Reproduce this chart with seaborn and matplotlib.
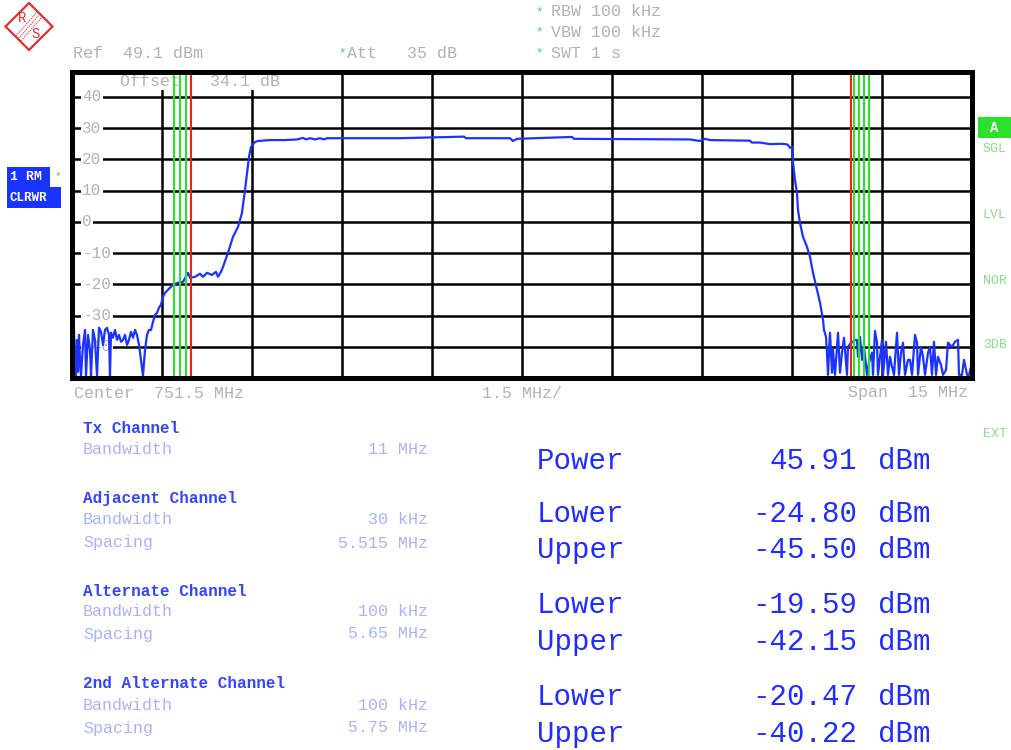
import numpy as np
import pandas as pd
import matplotlib
matplotlib.use("Agg")
import matplotlib.pyplot as plt
import seaborn as sns
from matplotlib.patches import Polygon, Rectangle
from matplotlib.lines import Line2D

# ---------------- data ----------------
freq_mhz = [
    744.000, 744.017, 744.033, 744.050, 744.067, 744.083, 744.100, 744.117, 744.133, 744.150,
    744.183, 744.217, 744.233, 744.267, 744.300, 744.317, 744.350, 744.383, 744.417, 744.450,
    744.483, 744.517, 744.550, 744.583, 744.617, 744.633, 744.650, 744.683, 744.717, 744.750,
    744.783, 744.817, 744.850, 744.883, 744.917, 744.950, 744.983, 745.017, 745.050, 745.083,
    745.117, 745.150, 745.183, 745.217, 745.250, 745.283, 745.317, 745.350, 745.383, 745.417,
    745.450, 745.483, 745.517, 745.550, 745.633, 745.683, 745.767, 745.850, 745.933, 745.967,
    746.050, 746.133, 746.183, 746.250, 746.333, 746.400, 746.433, 746.483, 746.517, 746.600,
    746.683, 746.767, 746.833, 746.883, 746.917, 746.950, 746.983, 747.050, 747.100, 747.300,
    747.550, 747.750, 747.850, 747.900, 747.967, 748.050, 748.133, 748.200, 748.250, 749.467,
    750.533, 750.567, 751.300, 751.350, 751.417, 752.333, 752.367, 754.300, 754.467, 754.550,
    754.633, 755.300, 755.333, 755.467, 755.633, 755.800, 755.900, 755.933, 755.967, 756.000,
    756.017, 756.050, 756.083, 756.100, 756.133, 756.183, 756.250, 756.300, 756.350, 756.417,
    756.467, 756.517, 756.533, 756.567, 756.583, 756.600, 756.633, 756.667, 756.683, 756.717,
    756.767, 756.800, 756.833, 756.867, 756.917, 756.933, 756.983, 757.017, 757.050, 757.083,
    757.100, 757.133, 757.167, 757.200, 757.250, 757.283, 757.333, 757.350, 757.383, 757.417,
    757.433, 757.467, 757.500, 757.517, 757.567, 757.600, 757.633, 757.667, 757.700, 757.750,
    757.783, 757.817, 757.850, 757.883, 757.933, 757.967, 758.000, 758.050, 758.083, 758.100,
    758.150, 758.183, 758.217, 758.267, 758.300, 758.333, 758.367, 758.400, 758.433, 758.483,
    758.517, 758.567, 758.600, 758.633, 758.667, 758.717, 758.767, 758.783, 758.833, 758.867,
    758.917, 758.950, 758.983, 759.000,
]
level_dbm = [
    -39.4, -47.4, -34.6, -45.8, -49.3, -37.8, -48.0, -36.2, -44.2, -49.3,
    -39.4, -34.6, -49.3, -36.2, -41.0, -49.3, -34.6, -37.8, -49.3, -33.9,
    -35.2, -39.4, -34.6, -33.9, -36.2, -49.3, -35.5, -37.1, -34.6, -37.8,
    -36.2, -38.4, -37.8, -36.2, -39.4, -37.8, -35.2, -37.1, -34.6, -36.2,
    -39.4, -44.2, -49.3, -41.0, -36.2, -34.6, -34.6, -32.0, -29.8, -29.1,
    -27.5, -26.5, -24.0, -22.7, -21.1, -20.2, -19.5, -19.2, -16.3, -17.9,
    -17.6, -16.6, -17.6, -16.3, -17.0, -16.0, -17.6, -16.0, -14.4, -9.9,
    -4.8, -1.6, 2.9, 10.2, 15.7, 20.8, 24.0, 25.6, 25.9, 26.2,
    26.2, 26.4, 26.9, 26.4, 26.8, 26.4, 26.8, 26.4, 26.8, 26.8,
    27.3, 26.8, 26.8, 25.9, 26.6, 27.2, 26.6, 26.4, 25.9, 26.6,
    26.2, 26.0, 25.4, 25.4, 24.9, 25.0, 24.9, 24.6, 23.7, 24.0,
    18.9, 13.4, 9.3, 3.8, -0.3, -4.8, -8.0, -11.2, -16.3, -21.8,
    -25.9, -31.4, -34.6, -36.8, -41.9, -49.0, -35.5, -48.3, -41.0, -49.0,
    -35.5, -48.3, -41.9, -37.1, -49.0, -40.0, -38.7, -38.4, -37.8, -37.8,
    -43.2, -36.8, -44.2, -40.0, -49.0, -45.1, -41.9, -49.0, -34.9, -38.7,
    -49.0, -43.2, -37.8, -49.0, -38.4, -49.0, -43.2, -46.4, -49.0, -35.5,
    -49.0, -41.9, -38.7, -49.0, -44.2, -44.2, -49.0, -36.2, -38.7, -49.0,
    -40.0, -43.2, -49.0, -41.9, -40.0, -49.0, -38.4, -49.0, -43.2, -45.8,
    -49.0, -47.4, -38.7, -39.4, -40.0, -38.4, -37.8, -49.0, -49.0, -44.2,
    -49.0, -49.0, -46.4, -44.0,
]

green_marker_mhz = [745.70, 745.80, 745.90, 757.03, 757.11, 757.20, 757.29]
red_marker_mhz = [745.985, 756.975]

y_grid_labels = [40, 30, 20, 10, 0, -10, -20, -30, -40]

header_left = ["Ref  49.1 dBm"]
header_att = "Att   35 dB"
header_right = ["RBW 100 kHz", "VBW 100 kHz", "SWT 1 s"]
offset_text = "Offset   34.1 dB"
x_footer = ["Center  751.5 MHz", "1.5 MHz/", "Span  15 MHz"]
side_flags = ["SGL", "LVL", "NOR", "3DB", "EXT"]

section_titles = ["Tx Channel", "Adjacent Channel", "Alternate Channel", "2nd Alternate Channel"]
section_params = [
    [("Bandwidth", "11 MHz")],
    [("Bandwidth", "30 kHz"), ("Spacing", "5.515 MHz")],
    [("Bandwidth", "100 kHz"), ("Spacing", "5.65 MHz")],
    [("Bandwidth", "100 kHz"), ("Spacing", "5.75 MHz")],
]
result_labels = ["Power", "Lower", "Upper", "Lower", "Upper", "Lower", "Upper"]
result_values = [45.91, -24.80, -45.50, -19.59, -42.15, -20.47, -40.22]
result_unit = "dBm"

# ---------------- style ----------------
sns.set_theme(style="white")
MONO = ["Liberation Mono", "DejaVu Sans Mono"]
plt.rcParams["font.family"] = MONO

W, H = 1011, 750
def fx(x):
    return x / W
def fy(y):
    return 1 - y / H

GRAY = "#b2b2b2"
BLUE = "#1f2dff"
TRACE = "#1a33ff"
LBLUE = "#a9b2ff"
TBLUE = "#3346ff"
GREEN = "#2ee02e"
LGREEN = "#86e086"
RED = "#ee2020"

fig = plt.figure(figsize=(W / 100, H / 100), dpi=100)
fig.patch.set_facecolor("white")

ax = fig.add_axes([fx(72), fy(378), 900 / W, 306 / H])
ax.set_facecolor("white")

df = pd.DataFrame({"freq": freq_mhz, "level": level_dbm})
sns.lineplot(data=df, x="freq", y="level", ax=ax, sort=False, estimator=None,
             color=TRACE, lw=1.6, zorder=4)

ax.set_xlim(744, 759)
ax.set_ylim(-50, 48)
ax.set_xticks(np.arange(744, 759.01, 1.5))
ax.set_yticks(y_grid_labels)
ax.grid(True, color="black", lw=1.8, zorder=1)
ax.set_axisbelow(True)
ax.tick_params(length=0, labelbottom=False, labelleft=False)
ax.set_xlabel("")
ax.set_ylabel("")
for s in ax.spines.values():
    s.set_color("black")
    s.set_linewidth(3.6)
    s.set_zorder(6)

for v in y_grid_labels:
    ax.text(744.17, v, f"{v}", ha="left", va="center", fontsize=11.5, color=GRAY,
            zorder=2, bbox=dict(facecolor="white", edgecolor="none", pad=1.0))

ax.text(744.8, 44.8, offset_text, ha="left", va="center", fontsize=12, color=GRAY, zorder=2,
        bbox=dict(facecolor="white", edgecolor="none", pad=0.5))

for f in green_marker_mhz:
    ax.axvline(f, color=GREEN, lw=1.5, zorder=5)
for f in red_marker_mhz:
    ax.axvline(f, color=RED, lw=1.5, zorder=5)

# ---------------- header ----------------
fig.text(fx(73), fy(53), header_left[0], ha="left", va="center", fontsize=12, color=GRAY)
fig.text(fx(342), fy(53), "*", ha="center", va="center", fontsize=9, color=GREEN)
fig.text(fx(347), fy(53), header_att, ha="left", va="center", fontsize=12, color=GRAY)
for i, t in enumerate(header_right):
    yy = 12 + 20.5 * i
    fig.text(fx(539), fy(yy), "*", ha="center", va="center", fontsize=9, color=GREEN)
    fig.text(fx(551), fy(yy), t, ha="left", va="center", fontsize=12, color=GRAY)

# footer of the plot
fig.text(fx(74), fy(393), x_footer[0], ha="left", va="center", fontsize=12, color=GRAY)
fig.text(fx(522), fy(393), x_footer[1], ha="center", va="center", fontsize=12, color=GRAY)
fig.text(fx(968), fy(393), x_footer[2], ha="right", va="center", fontsize=12, color=GRAY)

# left trace badge
fig.patches.append(Rectangle((fx(7), fy(187)), 43 / W, 20 / H, transform=fig.transFigure,
                             facecolor=TRACE, edgecolor="none"))
fig.patches.append(Rectangle((fx(7), fy(208)), 54 / W, 21 / H, transform=fig.transFigure,
                             facecolor=TRACE, edgecolor="none"))
fig.text(fx(10), fy(177), "1 RM", ha="left", va="center", fontsize=9.5, color="white",
         fontweight="bold")
fig.text(fx(58), fy(176), "*", ha="center", va="center", fontsize=8, color=GREEN)
fig.text(fx(9), fy(198), "CLRWR", ha="left", va="center", fontsize=9, color="white",
         fontweight="bold")

# right side flags
fig.patches.append(Rectangle((fx(978), fy(138)), 33 / W, 21 / H, transform=fig.transFigure,
                             facecolor=GREEN, edgecolor="none"))
fig.text(fx(994), fy(128), "A", ha="center", va="center", fontsize=10, color="white",
         fontweight="bold")
for t, yy in zip(side_flags, [149, 215, 281, 345, 434]):
    fig.text(fx(995), fy(yy), t, ha="center", va="center", fontsize=9.5, color=LGREEN)

# R&S logo
cx, cy, r = 29, 26.5, 23.5
diamond = [(fx(cx - r), fy(cy)), (fx(cx), fy(cy - r)), (fx(cx + r), fy(cy)), (fx(cx), fy(cy + r))]
fig.patches.append(Polygon(diamond, closed=True, transform=fig.transFigure,
                           facecolor="white", edgecolor="#e03030", lw=1.6))
for d in (-2.5, 0, 2.5):
    fig.lines.append(Line2D([fx(40 + d), fx(18 + d)], [fy(14 + d), fy(39 + d)],
                            transform=fig.transFigure, color="#e03030", lw=0.8,
                            linestyle=(0, (1, 1))))
fig.text(fx(22), fy(18), "R", ha="center", va="center", fontsize=10, color="#e03030")
fig.text(fx(36), fy(34), "S", ha="center", va="center", fontsize=10, color="#e03030")

# ---------------- left table ----------------
title_y = [429, 499, 591, 684]
param_y = [[450], [520, 543], [611, 634], [705, 728]]
for title, ty, params, pys in zip(section_titles, title_y, section_params, param_y):
    fig.text(fx(83), fy(ty), title, ha="left", va="center", fontsize=11.5, color=TBLUE,
             fontweight="bold")
    for (name, val), py in zip(params, pys):
        fig.text(fx(83), fy(py), name, ha="left", va="center", fontsize=12, color=LBLUE)
        fig.text(fx(428), fy(py), val, ha="right", va="center", fontsize=12, color=LBLUE)

# ---------------- right results ----------------
res_y = [461, 514, 550, 605, 642, 697, 734]
for lab, val, ry in zip(result_labels, result_values, res_y):
    fig.text(fx(537), fy(ry), lab, ha="left", va="center", fontsize=21, color=BLUE)
    fig.text(fx(857), fy(ry), f"{val:.2f}", ha="right", va="center", fontsize=21, color=BLUE)
    fig.text(fx(878), fy(ry), result_unit, ha="left", va="center", fontsize=21, color=BLUE)

fig.savefig("out.png", dpi=100, facecolor="white")
